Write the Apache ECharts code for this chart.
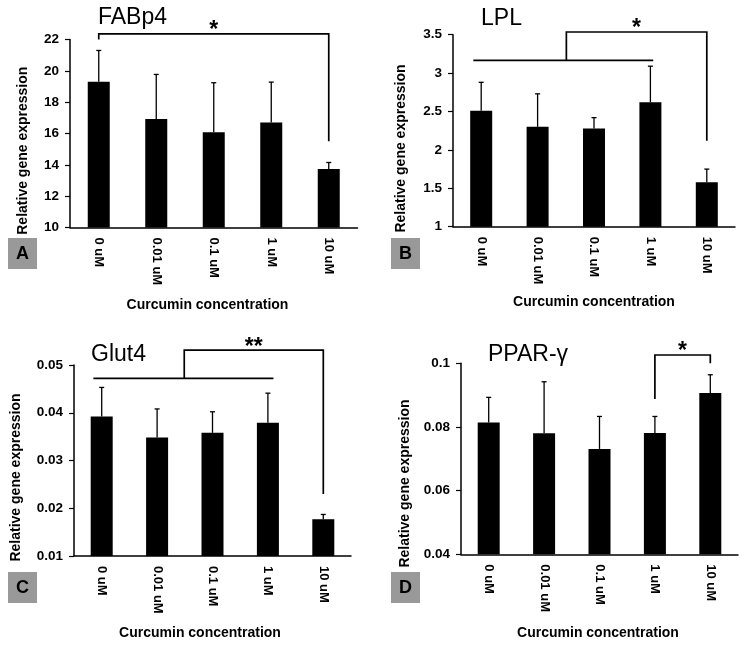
<!DOCTYPE html>
<html>
<head>
<meta charset="utf-8">
<script src="https://cdn.jsdelivr.net/npm/echarts@6/dist/echarts.min.js"></script>
<style>
  html, body { margin: 0; padding: 0; background: #fff; }
  #main { width: 747px; height: 647px; }
</style>
</head>
<body>
<div id="main"></div>
<script>
'use strict';
// data
var categories = ['0 uM', '0.01 uM', '0.1 uM', '1 uM', '10 uM'];

var fabp4 = [19.3, 16.92, 16.08, 16.71, 13.73];
var fabp4Sd = [2.0, 2.85, 3.16, 2.57, 0.42];

var lpl = [2.51, 2.30, 2.28, 2.62, 1.58];
var lplSd = [0.37, 0.43, 0.14, 0.47, 0.17];

var glut4 = [0.0392, 0.0348, 0.0358, 0.0379, 0.0177];
var glut4Sd = [0.0061, 0.0060, 0.0044, 0.0062, 0.0010];

var pparg = [0.0814, 0.0780, 0.0731, 0.0781, 0.0907];
var ppargSd = [0.0079, 0.0162, 0.0102, 0.0052, 0.0057];

// significance brackets: [from, to, top, fromEnd, toEnd, groupFrom, groupTo, groupValue]
var fabp4Bracket = [0, 4, 22.36, 22.0, 15.5, null, null, null];
var lplBracket = [1.51, 4, 3.535, 3.165, 2.12, -0.14, 3.05, 3.165];
var glut4Bracket = [1.49, 4, 0.0531, 0.0472, 0.0230, -0.15, 3.1, 0.0472];
var ppargBracket = [3, 4, 0.1026, 0.0888, 0.1, null, null, null];

var stars = ['*', '*', '**', '*'];

var yMin = [10, 1, 0.01, 0.04];
var yMax = [22, 3.5, 0.05, 0.1];
var yStep = [2, 0.5, 0.01, 0.02];

(function () {
	var font = 'Liberation Sans, Arial, sans-serif';
	var chart = echarts.init(document.getElementById('main'));

	var grids = [
		{ left: 70, top: 39.5, width: 287.5, height: 188 },
		{ left: 453, top: 34.7, width: 282, height: 192 },
		{ left: 74, top: 365, width: 277, height: 191 },
		{ left: 461, top: 363.3, width: 277, height: 191 }
	];
	var means = [fabp4, lpl, glut4, pparg];
	var sds = [fabp4Sd, lplSd, glut4Sd, ppargSd];
	var brackets = [fabp4Bracket, lplBracket, glut4Bracket, ppargBracket];

	var xAxes = [], yAxes = [], series = [];
	for (var i = 0; i < 4; i++) {
		xAxes.push({
			type: 'category', gridIndex: i, data: categories,
			axisLine: { lineStyle: { color: '#000', width: 1.5 } },
			axisTick: { show: false },
			axisLabel: { rotate: -90, margin: 10, color: '#000', fontWeight: 'bold', fontSize: 13, fontFamily: font }
		});
		yAxes.push({
			type: 'value', gridIndex: i, min: yMin[i], max: yMax[i], interval: yStep[i],
			splitLine: { show: false },
			axisLine: { show: true, lineStyle: { color: '#000', width: 1.5 } },
			axisTick: { show: true, length: 5, lineStyle: { color: '#000', width: 1.2 } },
			axisLabel: { margin: 11, color: '#000', fontWeight: 'bold', fontSize: 13.5, fontFamily: font }
		});
		series.push({
			type: 'bar', xAxisIndex: i, yAxisIndex: i, data: means[i],
			barWidth: 22, itemStyle: { color: '#000' }, silent: true
		});
		series.push({
			type: 'custom', xAxisIndex: i, yAxisIndex: i, silent: true,
			data: means[i].map(function (m, k) { return [k, m, sds[i][k]]; }),
			encode: { x: 0, y: 1 },
			renderItem: function (params, api) {
				var p0 = api.coord([api.value(0), api.value(1)]);
				var p1 = api.coord([api.value(0), api.value(1) + api.value(2)]);
				var st = { stroke: '#000', lineWidth: 1.3 };
				return {
					type: 'group', children: [
						{ type: 'line', shape: { x1: p0[0], y1: p0[1], x2: p1[0], y2: p1[1] }, style: st },
						{ type: 'line', shape: { x1: p1[0] - 2.5, y1: p1[1], x2: p1[0] + 2.5, y2: p1[1] }, style: st }
					]
				};
			}
		});
		series.push({
			type: 'custom', xAxisIndex: i, yAxisIndex: i, silent: true, z: 5,
			data: [[4, brackets[i][2]].concat(brackets[i], [i])],
			encode: { x: 0, y: 1 },
			renderItem: function (params, api) {
				var top = api.value(4);
				var c0 = api.coord([0, top]);
				var c1 = api.coord([1, top]);
				var step = c1[0] - c0[0];
				function xAt(f) { return c0[0] + f * step; }
				function yAt(v) { return api.coord([0, v])[1]; }
				var xa = xAt(api.value(2)), xb = xAt(api.value(3));
				var yt = yAt(top);
				var st = { stroke: '#000', lineWidth: 1.7, fill: null };
				var kids = [{
					type: 'polyline',
					shape: { points: [[xa, yAt(api.value(5))], [xa, yt], [xb, yt], [xb, yAt(api.value(6))]] },
					style: st
				}];
				var gv = api.value(9);
				if (gv != null && !isNaN(gv)) {
					kids.push({
						type: 'line',
						shape: { x1: xAt(api.value(7)), y1: yAt(gv), x2: xAt(api.value(8)), y2: yAt(gv) },
						style: st
					});
				}
				kids.push({
					type: 'text',
					style: {
						text: stars[api.value(10)], x: (xa + xb) / 2, y: yt - 3,
						align: 'center', verticalAlign: 'middle',
						font: 'bold 23px ' + font, fill: '#000'
					}
				});
				return { type: 'group', children: kids };
			}
		});
	}

	var titles = [['FABp4', 98, 17.5], ['LPL', 481, 18.5], ['Glut4', 91, 355], ['PPAR-\u03b3', 488, 355]];
	var xNames = [[207.5, 305], [594, 301.7], [200, 633], [598, 633]];
	var yNames = [[23, 150.7], [401, 148.5], [16, 477.5], [405, 483.5]];
	var boxes = [['A', 8, 238], ['B', 391, 238], ['C', 8, 572], ['D', 391, 572]];

	var graphic = [];
	titles.forEach(function (t) {
		graphic.push({ type: 'text', x: t[1], y: t[2], style: { text: t[0], font: '23px ' + font, fill: '#000', verticalAlign: 'middle' } });
	});
	xNames.forEach(function (p) {
		graphic.push({ type: 'text', x: p[0], y: p[1], style: { text: 'Curcumin concentration', font: 'bold 14px ' + font, fill: '#000', align: 'center', verticalAlign: 'middle' } });
	});
	yNames.forEach(function (p) {
		graphic.push({ type: 'text', x: p[0], y: p[1], rotation: Math.PI / 2, style: { text: 'Relative gene expression', font: 'bold 14px ' + font, fill: '#000', align: 'center', verticalAlign: 'middle' } });
	});
	boxes.forEach(function (b) {
		graphic.push({ type: 'rect', x: b[1], y: b[2], shape: { width: 29, height: 31 }, style: { fill: '#999999' } });
		graphic.push({ type: 'text', x: b[1] + 14.5, y: b[2] + 16, style: { text: b[0], font: 'bold 18px ' + font, fill: '#000', align: 'center', verticalAlign: 'middle' } });
	});

	chart.setOption({
		animation: false,
		backgroundColor: '#fff',
		grid: grids,
		xAxis: xAxes,
		yAxis: yAxes,
		series: series,
		graphic: graphic
	});
})();
</script>
</body>
</html>
